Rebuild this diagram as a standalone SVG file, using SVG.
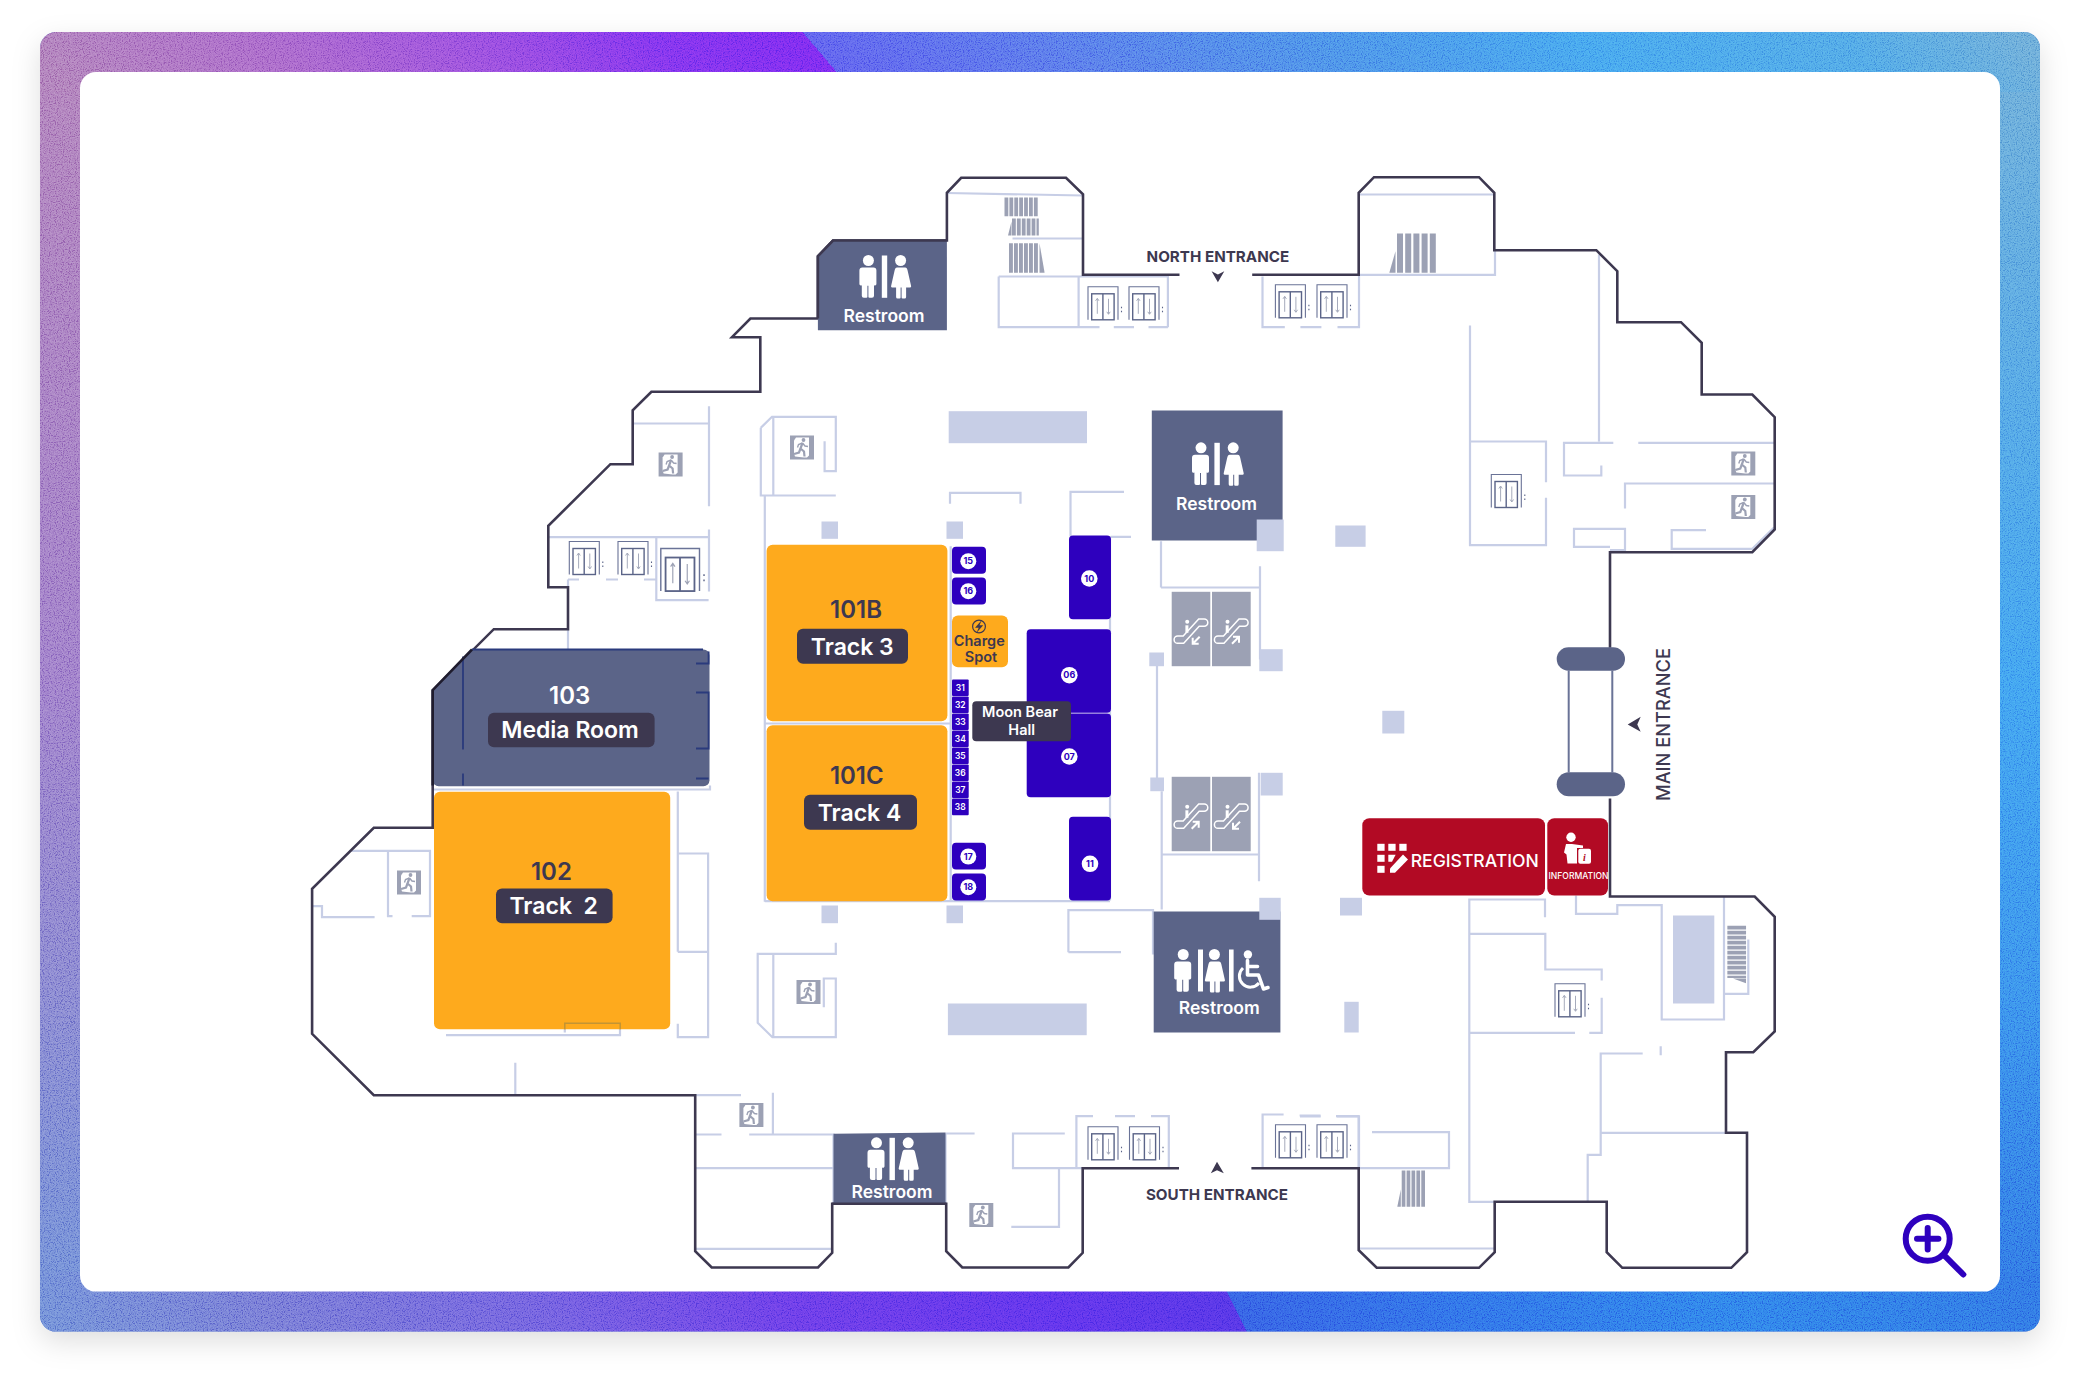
<svg xmlns="http://www.w3.org/2000/svg" width="2080" height="1380" viewBox="0 0 2080 1380">
<defs>
<style>
text{font-family:"Inter","Noto Sans","Liberation Sans",sans-serif;text-anchor:middle}
.w{fill:none;stroke:#C7CEE6;stroke-width:2.2}
.out{fill:none;stroke:#3D3850;stroke-width:2.6;stroke-linejoin:miter}
.sq{fill:#C7CEE6}
.dk{fill:#5B6488}
.or{fill:#FEAA1D}
.bl{fill:#2E00BE}
.lab{fill:#3D3850}
.rm{font-size:24px;font-weight:600}
.tr{font-size:23px;font-weight:600;fill:#fff;white-space:pre}
.rest{font-size:17.500px;font-weight:600;fill:#fff}
.ent{font-size:15.200px;font-weight:700;fill:#3D3850}
.num{font-size:9px;font-weight:700;fill:#2E00BE}
.n2{font-size:8.500px;font-weight:600;fill:#fff}
.st{stroke:#9CA1B4;fill:none}
.tri{fill:#9CA1B4}
</style>
<linearGradient id="gT" gradientUnits="userSpaceOnUse" x1="40" y1="52" x2="1259" y2="-985"><stop offset="0" stop-color="#AE7DB9"/><stop offset=".107" stop-color="#A868C8"/><stop offset=".202" stop-color="#9A50DC"/><stop offset=".297" stop-color="#8034EE"/><stop offset=".371" stop-color="#7B2BF0"/><stop offset=".371" stop-color="#5E60EE"/><stop offset=".486" stop-color="#5878EA"/><stop offset=".612" stop-color="#4B8FE8"/><stop offset=".739" stop-color="#45A4EE"/><stop offset=".865" stop-color="#50A6E6"/><stop offset=".947" stop-color="#6AAAD8"/></linearGradient>
<linearGradient id="gB" gradientUnits="userSpaceOnUse" x1="40" y1="1312" x2="1649" y2="507"><stop offset="0" stop-color="#6F8CD6"/><stop offset=".112" stop-color="#7478D4"/><stop offset=".244" stop-color="#7060DE"/><stop offset=".376" stop-color="#6A3CE8"/><stop offset=".507" stop-color="#5F33EC"/><stop offset=".595" stop-color="#5535E6"/><stop offset=".595" stop-color="#3560E4"/><stop offset=".705" stop-color="#3070E8"/><stop offset=".837" stop-color="#2F80EA"/><stop offset=".989" stop-color="#3075E4"/></linearGradient>
<linearGradient id="gL" gradientUnits="userSpaceOnUse" x1="0" y1="72" x2="0" y2="1292"><stop offset="0" stop-color="#AE7DB9"/><stop offset=".5" stop-color="#9C7BC8"/><stop offset="1" stop-color="#6F8CD6"/></linearGradient>
<linearGradient id="gR" gradientUnits="userSpaceOnUse" x1="0" y1="72" x2="0" y2="1292"><stop offset="0" stop-color="#6AAAD8"/><stop offset=".5" stop-color="#40A0F0"/><stop offset=".75" stop-color="#3A90EC"/><stop offset="1" stop-color="#3075E4"/></linearGradient>
<clipPath id="cc"><rect x="40" y="32" width="2000" height="1299.600" rx="16"/></clipPath>
<filter id="sh" x="-5%" y="-5%" width="110%" height="112%"><feDropShadow dx="0" dy="10" stdDeviation="14" flood-color="#000" flood-opacity=".13"/></filter>
<filter id="grain" x="0" y="0" width="100%" height="100%"><feTurbulence type="fractalNoise" baseFrequency=".85" numOctaves="2" seed="4"/><feColorMatrix values="3 0 0 0 -1 3 0 0 0 -1 3 0 0 0 -1 0 0 0 0 1"/></filter>
<g id="ev">
<path d="M0 33V0H30V33" fill="none" stroke="#6A7397" stroke-width="1.100"/>
<rect x="3.700" y="7" width="22.400" height="26" fill="none" stroke="#5B6488" stroke-width="1.400"/>
<path d="M14.900 7V33" stroke="#5B6488" stroke-width="1.400"/>
<path d="M9.300 27V12M7.600 14L9.300 11.500L11 14M20.500 12V27M18.800 25L20.500 27.500L22.200 25" fill="none" stroke="#9CA1B4" stroke-width=".9"/>
<path d="M33.500 20v1.400M33.500 24v1.400" stroke="#5B6488" stroke-width="1.100"/>
</g>
<g id="ex">
<rect width="24" height="24" fill="#9CA1B4"/>
<path d="M4 5L6 2H19V20L17 22H14L5 21L4 18Z" fill="#fff"/>
<circle cx="13.500" cy="4.500" r="1.900" fill="#9CA1B4"/>
<path d="M12.500 7.500L10.500 13L14 16L14.500 21M10.500 13L9 17L4 18.500" fill="none" stroke="#9CA1B4" stroke-width="2.200"/>
<path d="M12.500 7.500L8.500 9L7.500 12M12.500 7.500L15 10.500L18 11" fill="none" stroke="#9CA1B4" stroke-width="1.400"/>
</g>
<g id="man">
<circle cx="0" cy="0" r="5.500" fill="#fff"/>
<path d="M-5 7h10a3 3 0 0 1 3 3v13.500a1.500 1.500 0 0 1-2.400 1.200v10.600a2 2 0 0 1-2 2h-2.600a1 1 0 0 1-1-1v-11h-1v11a1 1 0 0 1-1 1h-2.600a2 2 0 0 1-2-2v-10.600a1.500 1.500 0 0 1-2.400-1.200v-13.500a3 3 0 0 1 3-3z" fill="#fff"/>
</g>
<g id="wom">
<circle cx="0" cy="0" r="5.500" fill="#fff"/>
<path d="M-4.500 7h9c1.500 0 2 1 2.500 3l3.500 15.500c.3 1.300-.8 1.500-1.500 1.500h-3.500v9.500a1.500 1.500 0 0 1-1.500 1.500h-2a1 1 0 0 1-1-1v-10h-1v10a1 1 0 0 1-1 1h-2a1.500 1.500 0 0 1-1.500-1.500v-9.500h-3.500c-.7 0-1.800-.2-1.500-1.500l3.500-15.500c.5-2 1-3 2.500-3z" fill="#fff"/>
</g>
<g id="esc">
<path d="M6 51.500h6l15.500-17h5a3.600 3.600 0 0 0 0-7.200h-5.500l-15.500 17h-5.500a3.600 3.600 0 0 0 0 7.200z" fill="none" stroke="#fff" stroke-width="1.500"/>
<circle cx="15.500" cy="30" r="2" fill="#fff"/>
<path d="M15.200 33.500v7.500" stroke="#fff" stroke-width="3" />
</g>
<g id="adn"><path d="M28 45L21 52M21 46V52H27" fill="none" stroke="#fff" stroke-width="2"/></g>
<g id="aup"><path d="M20 52L27 45M21 45H27V51" fill="none" stroke="#fff" stroke-width="2"/></g>
</defs>

<g id="frame">
<rect x="40" y="32" width="2000" height="1299.600" rx="16" fill="#6C8CD0" filter="url(#sh)"/>
<g clip-path="url(#cc)">
<rect x="40" y="72" width="60" height="1220" fill="url(#gL)"/>
<rect x="1980" y="72" width="60" height="1220" fill="url(#gR)"/>
<rect x="40" y="32" width="2000" height="60" fill="url(#gT)"/>
<rect x="40" y="1272" width="2000" height="60" fill="url(#gB)"/>
<rect x="40" y="32" width="2000" height="1300" filter="url(#grain)" opacity=".2" style="mix-blend-mode:overlay"/>
</g>
<rect x="80" y="72" width="1920" height="1219.600" rx="16" fill="#fff"/>
</g>

<g id="plan" transform="translate(0 -.5)">
<g id="walls">
<path class="w" d="M632.700 424H709M709 406.700V506.700M709 530V592M548.300 537.700H709M656.300 537.700V600.700H708.600"/>
<path class="w" d="M568 580H579M606 580H618M644 580H656M568 580V587.700M568 629.700V650"/>
<path class="w" d="M760.800 428.300L772 417.300H835.800V471.700H824.600V441.700M773.300 417.300V496M760.800 428.300V496H835.800M764.800 496V902.300M764.800 724H950M950.700 546.700V901.700M764.800 901.700H1110M1110 536.700V901M1070.500 536.700V492.300H1124M1110.700 537.300H1131"/>
<path class="w" d="M950 504.300V493.300H1020.500V504.300"/>
<path class="w" d="M1161 541.700V588M1161 588H1260M1260 566.700V660M1157 660V785M1161.700 791.700V910M1161.700 855H1259M1259 773.300V881.700"/>
<path class="w" d="M434 790H710V786M446 1035.700H620V1023.700H564.800V1033M677.800 792V952.300M677.800 854H708.100V1037.700H677.800V1024.300M677.800 952.300H708.100"/>
<path class="w" d="M351.400 851.300H430V916.700H411.700M388 851.300V916.700H392.500M312 906.700H322V917.700H374.600M515.300 1063.300V1095"/>
<path class="w" d="M835.800 943.300V954.300H757.700V1023.300L772.400 1037.700H835.800V979H823.800V1007.700M773.300 954.300V1037.700"/>
<path class="w" d="M947 193.500L1083 196M1012.500 239H1083M998.700 277H1167.900V327.700M998.700 277V327.700H1078.600V277M1078.600 327.700H1099.500M1113.800 327.700H1134M1148.500 327.700H1167.900M1262.500 277V327.700H1284.800M1300.400 327.700H1321.400M1337.500 327.700H1359V275.300"/>
<path class="w" d="M1359 195H1494.300M1359 275.300H1495V250.700M1470 326V545.700H1546V498.300M1546 482.700V442H1470M1599 255V442M1613.300 443.300H1564V476H1601.300V466M1638.300 443.300H1774.700M1774 484H1625V509M1610 547.300H1574V529.300H1625V550.700H1610M1706 530.700H1671.700V549.300H1752.300L1774 528"/>
<path class="w" d="M1545 917.700V900H1469.300V1202.300H1494.700M1469.300 934.300H1545.300V970H1601.700V981M1601.700 998.300V1033.300H1589.300M1575 1033.300H1469.300M1642.700 1054H1600.700V1155.300H1587.700V1202.300M1600.700 1133.300H1726M1660.700 1046.700V1055.700"/>
<path class="w" d="M1576 896V914.300H1617.300V905.700H1661.700V1020H1724V896.700M1748.300 940V994.300H1724"/>
<path class="w" d="M1372 1132.700H1449V1168.700H1358.700M1358.700 1249H1494.700M1300 1117H1320.700M1336.700 1117H1359V1169"/>
<path class="w" d="M1076.400 1168.300V1116.700H1093M1115 1116.700H1135M1151 1116.700H1168.800V1168M1262.600 1168V1115H1283.600M1299.600 1116H1320.600M1336 1116.700H1358.600V1168"/>
<path class="w" d="M1064.800 1134H1013V1168.700H1082.700M1059 1168.700V1227.300H1011.300"/>
<path class="w" d="M695.600 1095.700H741M772.900 1093.300V1135M695.600 1135H721.500M749.200 1135H833M945.600 1134H974.600M695.600 1168.700H833M695.600 1249.300H833M833.500 1134V1204M945.500 1134V1204"/>
<path class="w" d="M1068.400 952.700V910.700H1153V955M1068.400 952.700H1121"/>
<g id="pillars">
<rect class="sq" x="948.700" y="411.700" width="138.300" height="32"/>
<rect class="sq" x="947.900" y="1004" width="138.800" height="31.700"/>
<rect class="sq" x="821.500" y="522" width="16.500" height="17.300"/>
<rect class="sq" x="946.500" y="522" width="16.500" height="17.300"/>
<rect class="sq" x="821.500" y="906" width="16.500" height="17.700"/>
<rect class="sq" x="946.500" y="906" width="16.500" height="17.700"/>
<rect class="sq" x="1335.300" y="526" width="30.300" height="21.300"/>
<rect class="sq" x="1382.300" y="711.300" width="22" height="22.700"/>
<rect class="sq" x="1340" y="898.300" width="22" height="17.700"/>
<rect class="sq" x="1344.300" y="1002.300" width="14.400" height="30.700"/>
<rect class="sq" x="1149.300" y="653" width="14.700" height="13.700"/>
<rect class="sq" x="1150.300" y="778" width="13.700" height="13.700"/>
<rect class="sq" x="1259.300" y="649.700" width="23.400" height="22"/>
<rect class="sq" x="1260.700" y="773.300" width="22" height="22.700"/>
<rect class="sq" x="1673" y="916" width="41.300" height="88"/>
</g>
</g>

<g id="stairs">
<line class="st" x1="1004.500" y1="207.300" x2="1038.400" y2="207.300" stroke-width="18.700" stroke-dasharray="3.800 1.100"/>
<line class="st" x1="1012" y1="227.500" x2="1038.800" y2="227.500" stroke-width="17" stroke-dasharray="3.800 1.100"/>
<polygon class="tri" points="1008,236 1011.500,222 1011.500,236"/>
<line class="st" x1="1009" y1="258.500" x2="1039" y2="258.500" stroke-width="29.600" stroke-dasharray="3.900 1.100"/>
<polygon class="tri" points="1039.500,243.700 1044.600,273.300 1039.500,273.300"/>
<line class="st" x1="1397" y1="253.700" x2="1436.300" y2="253.700" stroke-width="39.300" stroke-dasharray="6 2.200"/>
<polygon class="tri" points="1389.300,273.300 1395.500,251.700 1395.500,273.300"/>
<line class="st" x1="1401.700" y1="1189.200" x2="1425.300" y2="1189.200" stroke-width="36.300" stroke-dasharray="3.700 1.200"/>
<polygon class="tri" points="1397.300,1207.300 1400.800,1190 1400.800,1207.300"/>
<line class="st" x1="1736.700" y1="926.300" x2="1736.700" y2="978.500" stroke-width="18.700" stroke-dasharray="3.700 1.300"/>
<polygon class="tri" points="1733,979 1746,979 1746,983.700"/>
</g>

<g id="elevators">
<use href="#ev" x="569.300" y="542"/>
<use href="#ev" x="618" y="542"/>
<use href="#ev" transform="translate(660.800 549) scale(1.290)"/>
<use href="#ev" x="1088" y="287.300"/>
<use href="#ev" x="1129" y="287.300"/>
<use href="#ev" x="1275.400" y="285.300"/>
<use href="#ev" x="1317" y="285.300"/>
<use href="#ev" x="1491.300" y="475"/>
<use href="#ev" x="1555" y="984.300"/>
<use href="#ev" x="1317" y="1125.300"/>
<use href="#ev" x="1275.500" y="1125.300"/>
<use href="#ev" x="1088" y="1127.300"/>
<use href="#ev" x="1129.500" y="1127.300"/>
</g>

<g id="exits">
<use href="#ex" x="658.600" y="453"/>
<use href="#ex" x="790" y="436"/>
<use href="#ex" x="397" y="871"/>
<use href="#ex" x="796.500" y="980.500"/>
<use href="#ex" x="739.400" y="1103.500"/>
<use href="#ex" x="969.300" y="1203.500"/>
<use href="#ex" x="1731.300" y="452"/>
<use href="#ex" x="1731.300" y="495.500"/>
</g>

<path id="outer" class="out" d="M1179.500 275.300H1083V194.700L1066 178.300H961.200L946.900 193.300V241H833L817.900 256.700V319H750.400L732 337.700H760.300V392.300H651.400L632.700 410.700V464.700H610.400L548.300 526.300V587.700H568V629.700H493.800L432.700 690.700V828.300H373.800L312.100 889.300V1034.300L373.800 1095.700H695.200V1251.700L711.700 1268H818L832.200 1253.300V1204.300H946.200V1251.700L962.300 1268H1068.400L1082.700 1253.300V1168.700H1179M1251.400 1168.700H1358.700V1250.700L1376.700 1268.300H1479L1494.700 1252.700V1202.300H1606.700V1252.700L1622.300 1268.300H1731.300L1747 1252.700V1133.300H1726V1052.700H1753.300L1774.700 1032V917.300L1754.700 897H1610V799M1610 648.300V552.700H1752.300L1774.700 530V417.700L1752.300 395H1701.700V343.300L1681 322.700H1617.300V271.700L1596.300 250.700H1494.300V193.300L1479 177.700H1374L1358.700 193.300V275.300H1252.200"/>

<g id="room-103">
<path class="dk" d="M432.700 690.700L472 650H703.500a6 6 0 0 1 6 6V780.700a6 6 0 0 1-6 6H438.700a6 6 0 0 1-6-6Z"/>
<path d="M472 650H703M463 657V750M463 774V786M708.600 652V664H696M696 693H708.600V749H696M696 779H708.600" fill="none" stroke="#2A3A7C" stroke-width="1.800"/>
<path d="M432.700 786V690.700L472 650" fill="none" stroke="#1F1C2E" stroke-width="2.600"/>
<text x="569.700" y="704.300" class="rm" fill="#fff">103</text>
<rect x="488" y="713.300" width="166.600" height="34.400" rx="6" class="lab"/>
<text x="570" y="738.300" class="tr">Media Room</text>
</g>

<g id="room-102">
<rect class="or" x="434" y="792.300" width="236.200" height="237.400" rx="6"/>
<path d="M564.800 1029.700V1023.700H620.200V1029.700" fill="none" stroke="#C29434" stroke-width="1.500"/>
<text x="551.400" y="880.300" class="rm lab">102</text>
<rect x="496" y="889" width="116.600" height="34.700" rx="6" class="lab"/>
<text x="553.700" y="914" class="tr">Track  2</text>
</g>

<g id="room-101b">
<rect class="or" x="766.600" y="545.300" width="180.800" height="176.400" rx="6"/>
<text x="856" y="618.300" class="rm lab">101B</text>
<rect x="797" y="629.300" width="111" height="35" rx="6" class="lab"/>
<text x="852.300" y="655" class="tr">Track 3</text>
</g>

<g id="room-101c">
<rect class="or" x="766.600" y="725.700" width="180.800" height="176" rx="6"/>
<text x="856.800" y="784.300" class="rm lab">101C</text>
<rect x="804" y="795.300" width="113" height="35" rx="6" class="lab"/>
<text x="859.500" y="821" class="tr">Track 4</text>
</g>

<g id="booths">
<g id="b15"><rect class="bl" x="952" y="547.300" width="34" height="27" rx="4"/><circle cx="968.300" cy="561.700" r="8" fill="#fff"/><text x="968.300" y="564.800" class="num">15</text></g>
<g id="b16"><rect class="bl" x="952" y="578" width="34" height="27" rx="4"/><circle cx="968.300" cy="591.700" r="8" fill="#fff"/><text x="968.300" y="594.800" class="num">16</text></g>
<g id="b17"><rect class="bl" x="952" y="843.300" width="34" height="26.700" rx="4"/><circle cx="968.300" cy="857" r="8" fill="#fff"/><text x="968.300" y="860.100" class="num">17</text></g>
<g id="b18"><rect class="bl" x="952" y="874" width="34" height="27" rx="4"/><circle cx="968.300" cy="887.700" r="8" fill="#fff"/><text x="968.300" y="890.800" class="num">18</text></g>
<g id="b31"><rect class="bl" x="952" y="680" width="16.700" height="16.400" rx="1"/><text x="960.300" y="691.300" class="n2">31</text></g>
<g id="b32"><rect class="bl" x="952" y="697" width="16.700" height="16.400" rx="1"/><text x="960.300" y="708.300" class="n2">32</text></g>
<g id="b33"><rect class="bl" x="952" y="714" width="16.700" height="16.400" rx="1"/><text x="960.300" y="725.300" class="n2">33</text></g>
<g id="b34"><rect class="bl" x="952" y="731" width="16.700" height="16.400" rx="1"/><text x="960.300" y="742.300" class="n2">34</text></g>
<g id="b35"><rect class="bl" x="952" y="748" width="16.700" height="16.400" rx="1"/><text x="960.300" y="759.300" class="n2">35</text></g>
<g id="b36"><rect class="bl" x="952" y="765" width="16.700" height="16.400" rx="1"/><text x="960.300" y="776.300" class="n2">36</text></g>
<g id="b37"><rect class="bl" x="952" y="782" width="16.700" height="16.400" rx="1"/><text x="960.300" y="793.300" class="n2">37</text></g>
<g id="b38"><rect class="bl" x="952" y="799" width="16.700" height="16.700" rx="1"/><text x="960.300" y="810.300" class="n2">38</text></g>
<g id="b10"><rect class="bl" x="1069" y="536" width="42" height="83.700" rx="4"/><circle cx="1089.300" cy="579" r="8.300" fill="#fff"/><text x="1089.300" y="582.100" class="num">10</text></g>
<g id="b11"><rect class="bl" x="1069" y="817.300" width="42" height="83.700" rx="4"/><circle cx="1090" cy="864.300" r="8.300" fill="#fff"/><text x="1090" y="867.400" class="num">11</text></g>
<g id="b06"><rect class="bl" x="1026.700" y="629.700" width="84.300" height="83.600" rx="4"/><circle cx="1069.300" cy="675.700" r="8.300" fill="#fff"/><text x="1069.300" y="678.800" class="num">06</text></g>
<g id="b07"><rect class="bl" x="1026.700" y="714" width="84.300" height="83.700" rx="4"/><circle cx="1069.300" cy="757" r="8.300" fill="#fff"/><text x="1069.300" y="760.100" class="num">07</text></g>
</g>

<g id="moon-bear">
<rect x="972.300" y="701.700" width="98.700" height="40" rx="4" class="lab"/>
<text x="1020" y="717.200" font-size="14.500" font-weight="600" fill="#fff">Moon Bear</text>
<text x="1021.700" y="735.500" font-size="14.500" font-weight="600" fill="#fff">Hall</text>
</g>

<g id="charge-spot">
<rect class="or" x="952" y="616" width="56" height="51.700" rx="6"/>
<circle cx="979" cy="627" r="6.400" fill="none" stroke="#3D3850" stroke-width="1.200"/>
<path d="M981.800 620.500L975 628.200H978.700L976.400 633.500L983.200 625.800H979.500Z" fill="#3D3850"/>
<text x="979.300" y="646.300" font-size="14.500" font-weight="600" fill="#3D3850">Charge</text>
<text x="981" y="662.300" font-size="14.500" font-weight="600" fill="#3D3850">Spot</text>
</g>

<g id="escalators">
<g transform="translate(1171.700 592.300)"><rect width="38.600" height="74.400" fill="#9CA1B4"/><use href="#esc"/><use href="#adn"/></g>
<g transform="translate(1212 592.300)"><rect width="38.700" height="74.400" fill="#9CA1B4"/><use href="#esc"/><use href="#aup"/></g>
<g transform="translate(1171.700 777.300)"><rect width="38.600" height="74.400" fill="#9CA1B4"/><use href="#esc"/><use href="#aup"/></g>
<g transform="translate(1212 777.300)"><rect width="38.700" height="74.400" fill="#9CA1B4"/><use href="#esc"/><use href="#adn"/></g>
</g>

<g id="restroom-north">
<path class="dk" d="M817.900 256.700L833 241H946.900V330.700H817.900Z"/>
<path d="M817.900 319V256.700L833 241H946.900" fill="none" stroke="#3D3850" stroke-width="2.600"/>
<use href="#man" x="868.400" y="261"/><rect x="881.800" y="256" width="5.400" height="42.300" fill="#fff"/><use href="#wom" x="900.600" y="261"/>
<text x="884" y="322.700" class="rest">Restroom</text>
</g>

<g id="restroom-center">
<rect class="dk" x="1151.800" y="411" width="130.800" height="130"/>
<use href="#man" x="1201" y="448.300"/><rect x="1214.400" y="443.300" width="5.400" height="42.300" fill="#fff"/><use href="#wom" x="1233.200" y="448.300"/>
<text x="1216.500" y="510" class="rest">Restroom</text>
<rect class="sq" x="1256.700" y="520" width="27" height="31.700"/>
</g>

<g id="restroom-accessible">
<rect class="dk" x="1153.700" y="912" width="126.700" height="121"/>
<rect class="sq" x="1259.300" y="898.300" width="21.400" height="22"/>
<use href="#man" x="1183.200" y="955"/><rect x="1198" y="950" width="5" height="42" fill="#fff"/><use href="#wom" x="1214.400" y="955"/><rect x="1229" y="950" width="4.600" height="42" fill="#fff"/>
<circle cx="1247.900" cy="955" r="4.200" fill="#fff"/>
<path d="M1247.500 961V975.500H1258.500L1263.500 989.500L1268 988M1247.500 967H1257.500" fill="none" stroke="#fff" stroke-width="3.600" stroke-linecap="round" stroke-linejoin="round"/>
<path d="M1243 968.500A11 11 0 1 0 1259 983.500" fill="none" stroke="#fff" stroke-width="3"/>
<text x="1219.300" y="1014.300" class="rest">Restroom</text>
</g>

<g id="restroom-south">
<path class="dk" d="M833.500 1134.300L945.500 1133V1204H833.500Z"/>
<path d="M832.200 1204.300H946.200" fill="none" stroke="#3D3850" stroke-width="2.600"/>
<use href="#man" x="876.500" y="1143.300"/><rect x="889.500" y="1138.300" width="5.400" height="42.300" fill="#fff"/><use href="#wom" x="908.200" y="1143.300"/>
<text x="892" y="1198.300" class="rest">Restroom</text>
</g>

<g id="north-entrance">
<text x="1217.900" y="262.700" class="ent">NORTH ENTRANCE</text>
<polygon class="lab" points="1211.600,271.700 1217.900,275 1224.300,271.700 1217.900,282.700"/>
</g>
<g id="south-entrance">
<text x="1217" y="1200" class="ent">SOUTH ENTRANCE</text>
<polygon class="lab" points="1217,1162.300 1210.800,1173.700 1217,1170.700 1223.800,1173.700"/>
</g>
<g id="main-entrance">
<rect class="dk" x="1556.700" y="647.700" width="68.300" height="23.600" rx="11.800"/>
<rect class="dk" x="1556.700" y="772.700" width="68.300" height="24" rx="12"/>
<path d="M1568.700 671V773M1612.300 671V773" stroke="#6A7397" stroke-width="2"/>
<polygon class="lab" points="1627.700,725 1640.700,717.300 1637.300,725 1640.700,732.300"/>
<text transform="translate(1670 725) rotate(-90)" font-size="19" font-weight="500" fill="#3D3850" textLength="153" lengthAdjust="spacingAndGlyphs">MAIN ENTRANCE</text>
</g>

<g id="registration">
<rect x="1362.300" y="818.700" width="182.700" height="77.300" rx="7" fill="#B20A24"/>
<g fill="#fff">
<rect x="1377.300" y="844.300" width="7.300" height="7"/><rect x="1388.300" y="844.300" width="7.300" height="7"/><rect x="1399.300" y="844.300" width="7.300" height="7"/>
<rect x="1377.300" y="855.300" width="7.300" height="7"/><polygon points="1388.300,855.300 1395.600,855.300 1392,862.300 1388.300,862.300"/>
<rect x="1377.300" y="866.300" width="7.300" height="7"/>
<polygon points="1390,869 1403,855 1408,860 1395,873.300 1390,873.300"/>
</g>
<text x="1474.700" y="867" font-size="17.500" font-weight="500" fill="#fff" textLength="128" lengthAdjust="spacingAndGlyphs">REGISTRATION</text>
</g>
<g id="information">
<rect x="1547.300" y="818.700" width="60.700" height="77.300" rx="7" fill="#B20A24"/>
<circle cx="1571" cy="837.700" r="4.700" fill="#fff"/>
<path d="M1566 844.500H1572L1583 846V848.500H1577V864H1567.500L1566.500 855L1564 853Z" fill="#fff"/>
<rect x="1578.300" y="849.300" width="12.700" height="15" rx="2" fill="#fff"/>
<text x="1584.500" y="861.500" font-size="10" font-weight="700" font-style="italic" fill="#B20A24" style="font-family:'Liberation Serif',serif">i</text>
<text x="1578.500" y="879.300" font-size="9" font-weight="500" fill="#fff" textLength="60" lengthAdjust="spacingAndGlyphs">INFORMATION</text>
</g>

<g id="zoom-control" fill="none" stroke="#2E00BE" stroke-linecap="round">
<circle cx="1927.700" cy="1239.300" r="22" stroke-width="6"/>
<path d="M1917 1239.300H1938.400M1927.700 1228.500V1250" stroke-width="6"/>
<path d="M1945 1256.700L1963.300 1275" stroke-width="6"/>
</g>
</g>
</svg>
